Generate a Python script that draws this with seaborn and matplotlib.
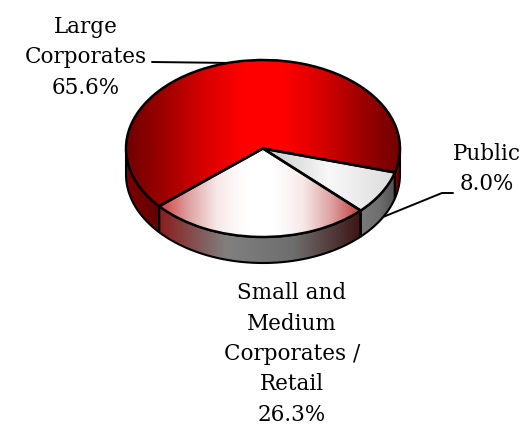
import numpy as np
import matplotlib
matplotlib.use("Agg")
import matplotlib.pyplot as plt
from matplotlib.patches import Polygon
import seaborn as sns

# Data
categories = ["Large\nCorporates", "Small and\nMedium\nCorporates /\nRetail", "Public"]
shares = [65.6, 26.3, 8.0]
pct_labels = ["65.6%", "26.3%", "8.0%"]

# Left to right colour stops of each slice
top_colors = [["#700000", "#a00000", "#d80000", "#ff0000", "#ff0000", "#d80000", "#a00000", "#700000"],
              ["#d23c3c", "#dda0a0", "#f8e8e8", "#ffffff", "#ffffff", "#f8e8e8", "#dda0a0", "#c03c3c"],
              ["#c8c8c8", "#f8f8f8", "#dcdcdc"]]
side_colors = [["#7a0000", "#640000"],
               ["#8a1c1c", "#808080", "#6e6e6e", "#3e1414"],
               ["#7a7a7a", "#707070", "#505050"]]

W, H = 525, 427
CX, CY, RX, RY, DEPTH = 263, 149.5, 137, 88.5, 26

sns.set_theme(style="white")
plt.rcParams["font.family"] = ["DejaVu Serif"]

fig = plt.figure(figsize=(W / 100, H / 100), dpi=100)
ax = fig.add_axes([0, 0, 1, 1])


def fill_gradient(patch, colors, zorder):
    # horizontal colour ramp clipped to the patch
    box = patch.get_path().transformed(patch.get_patch_transform()).get_extents()
    cmap = sns.blend_palette(colors, as_cmap=True)
    ramp = np.linspace(0, 1, 256).reshape(1, -1)
    im = ax.imshow(ramp, cmap=cmap, aspect="auto", zorder=zorder,
                   extent=[box.x0, box.x1, box.y0, box.y1])
    im.set_clip_path(patch)


wedges, _ = ax.pie(shares, startangle=344.3, radius=1, normalize=True,
                   wedgeprops={"facecolor": "none", "edgecolor": "black", "linewidth": 1.8, "zorder": 5})

for wedge, top, side in zip(wedges, top_colors, side_colors):
    fill_gradient(wedge, top, 4)

    # side wall: the front part of the rim (180-360 deg), pushed down by the depth
    depth = DEPTH / RY
    ranges = [(wedge.theta1, wedge.theta2), (wedge.theta1 + 360, wedge.theta2 + 360),
              (wedge.theta1 - 360, wedge.theta2 - 360)]
    for t1, t2 in ranges:
        a, b = max(t1, 180), min(t2, 360)
        if b <= a:
            continue
        t = np.radians(np.linspace(a, b, 80))
        upper = np.column_stack([np.cos(t), np.sin(t)])
        lower = upper[::-1] - [0, depth]
        wall = Polygon(np.vstack([upper, lower]), closed=True, facecolor="none",
                       edgecolor="black", linewidth=1.5, zorder=3)
        ax.add_patch(wall)
        fill_gradient(wall, side, 2)

ax.set_aspect("auto")
ax.set_xlim(-CX / RX, (W - CX) / RX)
ax.set_ylim((CY - H) / RY, CY / RY)
ax.axis("off")


def px(x, y):
    return x / W, 1 - y / H


# Labels and leader lines
label_xy = [(86, 57), (292, 354), (487, 169)]
for name, pct, (x, y) in zip(categories, pct_labels, label_xy):
    ax.text(*px(x, y), name + "\n" + pct, transform=ax.transAxes, ha="center", va="center",
            fontsize=15.5, linespacing=1.5, color="black")

leaders = [[(152, 63), (233, 64)], [(383, 218), (442, 194), (453, 194)]]
for pts in leaders:
    xs, ys = zip(*[px(*p) for p in pts])
    ax.plot(xs, ys, transform=ax.transAxes, color="black", linewidth=1.4, zorder=1)

fig.savefig("out.png", dpi=100)
